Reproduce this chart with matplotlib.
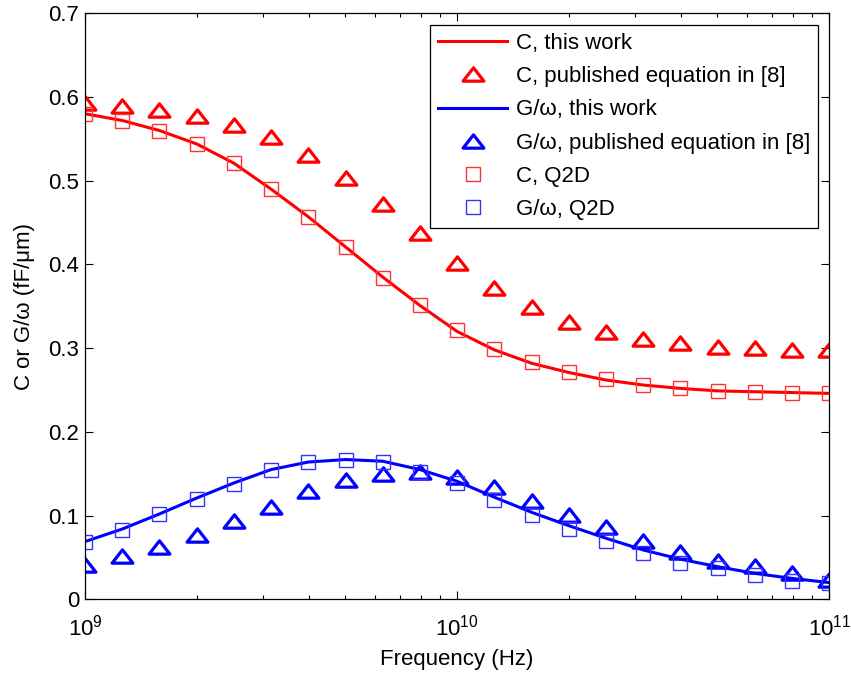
import numpy as np
import matplotlib
matplotlib.use('Agg')
import matplotlib.pyplot as plt
from matplotlib.path import Path
from matplotlib.ticker import FuncFormatter, LogLocator

plt.rcParams['font.family'] = ['Liberation Sans', 'DejaVu Sans']
plt.rcParams['mathtext.fontset'] = 'custom'
plt.rcParams['mathtext.rm'] = 'Liberation Sans'

freq = [1.0e9, 1.259e9, 1.585e9, 1.995e9, 2.512e9, 3.162e9, 3.981e9,
        5.012e9, 6.310e9, 7.943e9, 1.0e10, 1.259e10, 1.585e10, 1.995e10,
        2.512e10, 3.162e10, 3.981e10, 5.012e10, 6.310e10, 7.943e10, 1.0e11]

# capacitance, this work (line)
c_work = [0.580, 0.572, 0.560, 0.544, 0.521, 0.490, 0.457, 0.421, 0.385, 0.351,
          0.320, 0.298, 0.282, 0.271, 0.262, 0.256, 0.252, 0.249, 0.248, 0.247, 0.246]
# capacitance, published equation
c_pub = [0.593, 0.589, 0.585, 0.577, 0.567, 0.552, 0.531, 0.503, 0.472, 0.438,
         0.402, 0.372, 0.349, 0.331, 0.319, 0.311, 0.306, 0.302, 0.300, 0.298, 0.298]
# capacitance, Q2D
c_q2d = [0.580, 0.571, 0.560, 0.544, 0.521, 0.490, 0.457, 0.421, 0.384, 0.352,
         0.322, 0.299, 0.283, 0.271, 0.263, 0.256, 0.252, 0.249, 0.248, 0.246, 0.246]

# G/omega, this work (line)
g_work = [0.069, 0.084, 0.102, 0.121, 0.139, 0.155, 0.164, 0.167, 0.165, 0.155,
          0.141, 0.122, 0.104, 0.088, 0.073, 0.059, 0.048, 0.039, 0.031, 0.025, 0.020]
# G/omega, published equation
g_pub = [0.041, 0.052, 0.063, 0.077, 0.093, 0.110, 0.129, 0.142, 0.150, 0.152,
         0.146, 0.134, 0.118, 0.101, 0.086, 0.070, 0.056, 0.046, 0.040, 0.031, 0.023]
# G/omega, Q2D
g_q2d = [0.069, 0.083, 0.102, 0.120, 0.138, 0.155, 0.164, 0.167, 0.164, 0.152,
         0.139, 0.119, 0.101, 0.084, 0.070, 0.055, 0.044, 0.037, 0.029, 0.022, 0.019]

yticks = [0, 0.1, 0.2, 0.3, 0.4, 0.5, 0.6, 0.7]

# matlab style triangle, wider than tall
tri = Path([(0, 0.64), (-1, -0.64), (1, -0.64), (0, 0.64)],
           [Path.MOVETO, Path.LINETO, Path.LINETO, Path.CLOSEPOLY])

fig = plt.figure(figsize=(8.51, 6.77), dpi=100)
ax = fig.add_axes([0.0999, 0.1147, 0.8746, 0.8656])

ax.plot(freq, c_work, color='red', lw=2.2, label='C, this work')
ax.plot(freq, c_pub, ls='none', marker=tri, ms=15, mfc='none', mec='red', mew=2.3,
        label='C, published equation in [8]')
ax.plot(freq, g_work, color='blue', lw=2.2, label='G/ω, this work')
ax.plot(freq, g_pub, ls='none', marker=tri, ms=15, mfc='none', mec='blue', mew=2.3,
        label='G/ω, published equation in [8]')
ax.plot(freq, c_q2d, ls='none', marker='s', ms=9.5, mfc='none', mec=(1, 0.2, 0.2), mew=1.0,
        label='C, Q2D')
ax.plot(freq, g_q2d, ls='none', marker='s', ms=9.5, mfc='none', mec=(0.2, 0.2, 1), mew=1.0,
        label='G/ω, Q2D')

ax.set_xscale('log')
ax.set_xlim(1e9, 1e11)
ax.set_ylim(0, 0.7)
ax.set_yticks(yticks)
ax.yaxis.set_major_formatter(FuncFormatter(lambda v, p: '%g' % v))
ax.xaxis.set_minor_locator(LogLocator(base=10, subs=np.arange(2, 10)))

ax.tick_params(which='both', direction='in', top=True, right=True, labelsize=16, width=0.8)
ax.tick_params(which='major', length=6)
ax.tick_params(which='minor', length=3)
ax.tick_params(axis='y', pad=4)
ax.tick_params(axis='x', pad=11)
for s in ax.spines.values():
    s.set_linewidth(0.9)

ax.set_xlabel('Frequency (Hz)', fontsize=16, labelpad=6)
ax.set_ylabel('C or G/ω (fF/μm)', fontsize=16, labelpad=10)

leg = ax.legend(loc='upper right', bbox_to_anchor=(0.985, 0.980), borderaxespad=0,
                fontsize=16, frameon=True, fancybox=False, framealpha=1,
                handlelength=3.1, handletextpad=0.4, labelspacing=0.55, borderpad=0.35)
leg.get_frame().set_edgecolor('black')
leg.get_frame().set_linewidth(0.9)

plt.savefig('out.png', dpi=100)
